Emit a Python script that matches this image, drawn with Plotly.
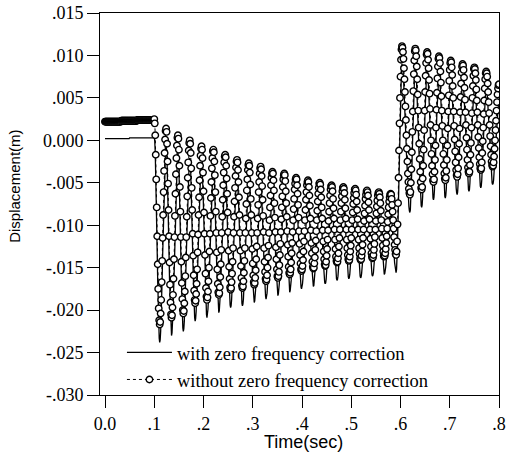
import plotly.graph_objects as go

# Sampling interval of the recorded response (s)
SAMPLE_INTERVAL_S = 0.001

# Displacement without zero frequency correction (mm), one value per sample from t = 0.000 s
disp_without_mm = [
    2.2, 2.2, 2.2, 2.2, 2.2, 2.2, 2.2, 2.2, 2.2, 2.2,
    2.2, 2.2, 2.2, 2.2, 2.2, 2.2, 2.2, 2.2, 2.2, 2.2,
    2.2, 2.2, 2.2, 2.2, 2.2, 2.2, 2.2, 2.2, 2.2, 2.2,
    2.2, 2.2, 2.2,
    2.3, 2.3, 2.3, 2.3, 2.3, 2.3, 2.3, 2.3, 2.3, 2.3,
    2.3, 2.3, 2.3, 2.3, 2.3, 2.3, 2.3, 2.3, 2.3, 2.3,
    2.3, 2.3, 2.3, 2.3, 2.3, 2.3, 2.3, 2.3, 2.3, 2.3,
    2.3, 2.3, 2.3,
    2.4, 2.4, 2.4, 2.4, 2.4, 2.4, 2.4, 2.4, 2.4, 2.4,
    2.4, 2.4, 2.4, 2.4, 2.4, 2.4, 2.4, 2.4, 2.4, 2.4,
    2.4, 2.4, 2.4, 2.4, 2.4, 2.4, 2.4, 2.4, 2.4, 2.4,
    2.4, 2.4, 2.4, 2.4,
    2.5,
    2.0, 0.6, -1.7, -4.6, -7.9, -11.3, -14.6, -17.5, -19.8, -21.2, -21.7,
    -21.4, -20.4, -18.8, -16.7, -14.2, -11.5, -8.8, -6.1, -3.6, -1.5, 0.1, 1.1, 1.4,
    1.0, -0.4, -2.5, -5.1, -8.2, -11.3, -14.4, -17.0, -19.1, -20.5, -20.9,
    -20.6, -19.7, -18.2, -16.3, -14.0, -11.4, -8.9, -6.3, -4.0, -2.1, -0.6, 0.3, 0.6,
    0.2, -1.1, -3.0, -5.5, -8.4, -11.4, -14.3, -16.8, -18.7, -20.0, -20.4,
    -20.1, -19.2, -17.8, -16.0, -13.8, -11.4, -9.0, -6.6, -4.4, -2.6, -1.2, -0.3, 0.0,
    -0.4, -1.5, -3.3, -5.6, -8.2, -11.0, -13.6, -15.9, -17.7, -18.8, -19.2,
    -18.9, -18.1, -16.9, -15.2, -13.2, -11.1, -8.8, -6.7, -4.7, -3.0, -1.8, -1.0, -0.7,
    -1.1, -2.1, -3.8, -6.0, -8.5, -11.0, -13.5, -15.7, -17.4, -18.4, -18.8,
    -18.5, -17.8, -16.6, -15.0, -13.1, -11.0, -8.9, -6.8, -4.9, -3.3, -2.1, -1.3, -1.1,
    -1.4, -2.5, -4.1, -6.1, -8.4, -10.9, -13.2, -15.2, -16.9, -17.9, -18.2,
    -18.0, -17.3, -16.1, -14.6, -12.9, -10.9, -9.0, -7.0, -5.3, -3.8, -2.6, -1.9, -1.7,
    -2.0, -3.0, -4.5, -6.3, -8.5, -10.8, -13.0, -14.9, -16.3, -17.3, -17.6,
    -17.4, -16.7, -15.7, -14.3, -12.7, -10.9, -9.0, -7.2, -5.6, -4.2, -3.2, -2.5, -2.3,
    -2.6, -3.5, -4.9, -6.7, -8.8, -10.9, -13.0, -14.8, -16.2, -17.1, -17.4,
    -17.2, -16.6, -15.6, -14.2, -12.7, -10.9, -9.2, -7.5, -5.9, -4.6, -3.5, -2.9, -2.7,
    -3.0, -3.8, -5.2, -6.9, -8.8, -10.9, -12.8, -14.5, -15.9, -16.7, -17.0,
    -16.8, -16.2, -15.3, -14.0, -12.5, -10.9, -9.2, -7.6, -6.1, -4.9, -3.9, -3.3, -3.1,
    -3.4, -4.2, -5.4, -7.0, -8.9, -10.8, -12.7, -14.3, -15.5, -16.3, -16.6,
    -16.4, -15.9, -15.0, -13.8, -12.4, -10.9, -9.4, -7.9, -6.5, -5.3, -4.4, -3.9, -3.7,
    -3.9, -4.7, -5.9, -7.4, -9.1, -10.8, -12.6, -14.0, -15.2, -16.0, -16.2,
    -16.0, -15.5, -14.7, -13.5, -12.2, -10.8, -9.3, -7.9, -6.6, -5.5, -4.6, -4.1, -3.9,
    -4.1, -4.8, -6.0, -7.4, -9.0, -10.7, -12.3, -13.7, -14.9, -15.6, -15.8,
    -15.6, -15.2, -14.4, -13.3, -12.1, -10.8, -9.4, -8.1, -6.9, -5.8, -5.1, -4.6, -4.4,
    -4.6, -5.3, -6.3, -7.6, -9.1, -10.7, -12.2, -13.5, -14.5, -15.2, -15.4,
    -15.2, -14.8, -14.1, -13.1, -11.9, -10.7, -9.4, -8.2, -7.0, -6.1, -5.3, -4.9, -4.7,
    -4.9, -5.5, -6.5, -7.7, -9.2, -10.6, -12.1, -13.3, -14.3, -14.9, -15.1,
    -15.0, -14.5, -13.8, -12.9, -11.8, -10.7, -9.4, -8.3, -7.2, -6.3, -5.6, -5.1, -5.0,
    -5.2, -5.8, -6.7, -7.9, -9.2, -10.6, -11.9, -13.1, -14.0, -14.6, -14.8,
    -14.7, -14.3, -13.6, -12.8, -11.7, -10.6, -9.5, -8.4, -7.4, -6.5, -5.8, -5.4, -5.3,
    -5.5, -6.0, -6.9, -8.0, -9.2, -10.5, -11.7, -12.8, -13.7, -14.2, -14.4,
    -14.3, -13.9, -13.3, -12.5, -11.5, -10.5, -9.4, -8.4, -7.4, -6.6, -6.0, -5.6, -5.5,
    -5.7, -6.2, -7.0, -8.0, -9.2, -10.5, -11.7, -12.7, -13.5, -14.0, -14.2,
    -14.1, -13.7, -13.1, -12.4, -11.5, -10.5, -9.4, -8.5, -7.5, -6.8, -6.2, -5.8, -5.7,
    -5.9, -6.4, -7.2, -8.2, -9.3, -10.5, -11.7, -12.7, -13.4, -13.9, -14.1,
    -14.0, -13.6, -13.1, -12.3, -11.5, -10.5, -9.5, -8.6, -7.7, -6.9, -6.4, -6.0, -5.9,
    -6.1, -6.5, -7.3, -8.2, -9.3, -10.5, -11.6, -12.5, -13.3, -13.7, -13.9,
    -13.8, -13.5, -12.9, -12.2, -11.4, -10.5, -9.5, -8.6, -7.8, -7.1, -6.5, -6.2, -6.1,
    -6.3, -6.7, -7.4, -8.3, -9.4, -10.4, -11.5, -12.4, -13.1, -13.6, -13.7,
    -13.6, -13.3, -12.8, -12.1, -11.3, -10.4, -9.6, -8.7, -7.9, -7.2, -6.7, -6.4, -6.3,
    -6.4, -6.9, -7.6, -8.4, -9.4, -10.4, -11.4, -12.3, -12.9, -13.4, -13.5,
    -13.1, -11.9, -9.9, -7.4, -4.4, -1.2, 2.0, 5.0, 7.5, 9.5, 10.7, 11.1,
    10.9, 10.4, 9.6, 8.5, 7.2, 5.7, 4.0, 2.4, 0.6, -1.0, -2.5, -3.9, -4.9, -5.7, -6.2, -6.4,
    -6.1, -5.0, -3.4, -1.4, 1.0, 3.4, 5.8, 7.8, 9.4, 10.5, 10.8,
    10.6, 9.9, 8.7, 7.2, 5.4, 3.5, 1.5, -0.4, -2.2, -3.7, -4.9, -5.6, -5.8,
    -5.5, -4.5, -3.0, -1.1, 1.2, 3.5, 5.7, 7.6, 9.1, 10.1, 10.4,
    10.2, 9.5, 8.5, 7.1, 5.5, 3.7, 1.8, 0.0, -1.6, -3.0, -4.0, -4.7, -4.9,
    -4.6, -3.7, -2.3, -0.6, 1.5, 3.6, 5.6, 7.3, 8.7, 9.6, 9.9,
    9.7, 9.1, 8.1, 6.8, 5.2, 3.5, 1.7, 0.0, -1.6, -2.9, -3.9, -4.5, -4.7,
    -4.4, -3.6, -2.3, -0.6, 1.4, 3.4, 5.3, 7.0, 8.3, 9.1, 9.4,
    9.2, 8.6, 7.7, 6.4, 5.0, 3.4, 1.7, 0.1, -1.3, -2.6, -3.5, -4.1, -4.3,
    -4.0, -3.3, -2.0, -0.4, 1.4, 3.3, 5.1, 6.7, 8.0, 8.7, 9.0,
    8.8, 8.3, 7.4, 6.2, 4.8, 3.3, 1.8, 0.3, -1.1, -2.3, -3.2, -3.7, -3.9,
    -3.7, -2.9, -1.7, -0.3, 1.5, 3.2, 5.0, 6.4, 7.6, 8.4, 8.6,
    8.4, 7.9, 7.1, 6.0, 4.7, 3.3, 1.8, 0.4, -0.9, -2.0, -2.8, -3.3, -3.5,
    -3.3, -2.6, -1.5, -0.1, 1.5, 3.1, 4.7, 6.1, 7.2, 7.9, 8.1,
    7.9, 7.5, 6.7, 5.7, 4.5, 3.2, 1.8, 0.5, -0.7, -1.7, -2.5, -2.9, -3.1,
    -3.0, -2.6, -1.9, -1.0, 0.0, 1.2, 2.3, 3.5, 4.5, 5.4, 6.1, 6.5, 6.6,
]

# Displacement with zero frequency correction (mm), same sampling
disp_with_mm = [
    0.2, 0.2, 0.2, 0.2, 0.2, 0.2, 0.2, 0.2, 0.2, 0.2,
    0.2, 0.2, 0.2, 0.2, 0.2, 0.2, 0.2, 0.2, 0.2, 0.2,
    0.2, 0.2, 0.2, 0.2, 0.2, 0.2, 0.2, 0.2, 0.2, 0.2,
    0.2, 0.2, 0.2, 0.2, 0.2, 0.2, 0.2, 0.2, 0.2, 0.2,
    0.2, 0.2, 0.2, 0.2, 0.2, 0.2, 0.2, 0.2, 0.2, 0.2,
    0.3, 0.3, 0.3, 0.3, 0.3, 0.3, 0.3, 0.3, 0.3, 0.3,
    0.3, 0.3, 0.3, 0.3, 0.3, 0.3, 0.3, 0.3, 0.3, 0.3,
    0.3, 0.3, 0.3, 0.3, 0.3, 0.3, 0.3, 0.3, 0.3, 0.3,
    0.3, 0.3, 0.3, 0.3, 0.3, 0.3, 0.3, 0.3, 0.3, 0.3,
    0.3, 0.3, 0.3, 0.3, 0.3, 0.3, 0.3, 0.3, 0.3, 0.3,
    0.4,
    -0.1, -1.5, -3.8, -6.7, -10.0, -13.4, -16.7, -19.6, -21.9, -23.3, -23.8,
    -23.5, -22.5, -20.9, -18.8, -16.3, -13.6, -10.9, -8.2, -5.7, -3.6, -2.0, -1.0, -0.7,
    -1.1, -2.5, -4.6, -7.2, -10.3, -13.4, -16.5, -19.1, -21.2, -22.6, -23.0,
    -22.7, -21.8, -20.3, -18.4, -16.1, -13.5, -11.0, -8.4, -6.1, -4.2, -2.7, -1.8, -1.5,
    -1.9, -3.2, -5.1, -7.6, -10.5, -13.5, -16.4, -18.9, -20.8, -22.1, -22.5,
    -22.2, -21.3, -19.9, -18.1, -15.9, -13.5, -11.1, -8.7, -6.5, -4.7, -3.3, -2.4, -2.1,
    -2.5, -3.6, -5.4, -7.7, -10.3, -13.1, -15.7, -18.0, -19.8, -20.9, -21.3,
    -21.0, -20.2, -19.0, -17.3, -15.3, -13.2, -10.9, -8.8, -6.8, -5.1, -3.9, -3.1, -2.8,
    -3.2, -4.2, -5.9, -8.1, -10.6, -13.1, -15.6, -17.8, -19.5, -20.5, -20.9,
    -20.6, -19.9, -18.7, -17.1, -15.2, -13.1, -11.0, -8.9, -7.0, -5.4, -4.2, -3.4, -3.2,
    -3.5, -4.6, -6.2, -8.2, -10.5, -13.0, -15.3, -17.3, -19.0, -20.0, -20.3,
    -20.1, -19.4, -18.2, -16.7, -15.0, -13.0, -11.1, -9.1, -7.4, -5.9, -4.7, -4.0, -3.8,
    -4.1, -5.1, -6.6, -8.4, -10.6, -12.9, -15.1, -17.0, -18.4, -19.4, -19.7,
    -19.5, -18.8, -17.8, -16.4, -14.8, -13.0, -11.1, -9.3, -7.7, -6.3, -5.3, -4.6, -4.4,
    -4.7, -5.6, -7.0, -8.8, -10.9, -13.0, -15.1, -16.9, -18.3, -19.2, -19.5,
    -19.3, -18.7, -17.7, -16.3, -14.8, -13.0, -11.3, -9.6, -8.0, -6.7, -5.6, -5.0, -4.8,
    -5.1, -5.9, -7.3, -9.0, -10.9, -13.0, -14.9, -16.6, -18.0, -18.8, -19.1,
    -18.9, -18.3, -17.4, -16.1, -14.6, -13.0, -11.3, -9.7, -8.2, -7.0, -6.0, -5.4, -5.2,
    -5.5, -6.3, -7.5, -9.1, -11.0, -12.9, -14.8, -16.4, -17.6, -18.4, -18.7,
    -18.5, -18.0, -17.1, -15.9, -14.5, -13.0, -11.5, -10.0, -8.6, -7.4, -6.5, -6.0, -5.8,
    -6.0, -6.8, -8.0, -9.5, -11.2, -12.9, -14.7, -16.1, -17.3, -18.1, -18.3,
    -18.1, -17.6, -16.8, -15.6, -14.3, -12.9, -11.4, -10.0, -8.7, -7.6, -6.7, -6.2, -6.0,
    -6.2, -6.9, -8.1, -9.5, -11.1, -12.8, -14.4, -15.8, -17.0, -17.7, -17.9,
    -17.7, -17.3, -16.5, -15.4, -14.2, -12.9, -11.5, -10.2, -9.0, -7.9, -7.2, -6.7, -6.5,
    -6.7, -7.4, -8.4, -9.7, -11.2, -12.8, -14.3, -15.6, -16.6, -17.3, -17.5,
    -17.3, -16.9, -16.2, -15.2, -14.0, -12.8, -11.5, -10.3, -9.1, -8.2, -7.4, -7.0, -6.8,
    -7.0, -7.6, -8.6, -9.8, -11.3, -12.7, -14.2, -15.4, -16.4, -17.0, -17.2,
    -17.1, -16.6, -15.9, -15.0, -13.9, -12.8, -11.5, -10.4, -9.3, -8.4, -7.7, -7.2, -7.1,
    -7.3, -7.9, -8.8, -10.0, -11.3, -12.7, -14.0, -15.2, -16.1, -16.7, -16.9,
    -16.8, -16.4, -15.7, -14.9, -13.8, -12.7, -11.6, -10.5, -9.5, -8.6, -7.9, -7.5, -7.4,
    -7.6, -8.1, -9.0, -10.1, -11.3, -12.6, -13.8, -14.9, -15.8, -16.3, -16.5,
    -16.4, -16.0, -15.4, -14.6, -13.6, -12.6, -11.5, -10.5, -9.5, -8.7, -8.1, -7.7, -7.6,
    -7.8, -8.3, -9.1, -10.1, -11.3, -12.6, -13.8, -14.8, -15.6, -16.1, -16.3,
    -16.2, -15.8, -15.2, -14.5, -13.6, -12.6, -11.5, -10.6, -9.6, -8.9, -8.3, -7.9, -7.8,
    -8.0, -8.5, -9.3, -10.3, -11.4, -12.6, -13.8, -14.8, -15.5, -16.0, -16.2,
    -16.1, -15.7, -15.2, -14.4, -13.6, -12.6, -11.6, -10.7, -9.8, -9.0, -8.5, -8.1, -8.0,
    -8.2, -8.6, -9.4, -10.3, -11.4, -12.6, -13.7, -14.6, -15.4, -15.8, -16.0,
    -15.9, -15.6, -15.0, -14.3, -13.5, -12.6, -11.6, -10.7, -9.9, -9.2, -8.6, -8.3, -8.2,
    -8.4, -8.8, -9.5, -10.4, -11.5, -12.5, -13.6, -14.5, -15.2, -15.7, -15.8,
    -15.7, -15.4, -14.9, -14.2, -13.4, -12.5, -11.7, -10.8, -10.0, -9.3, -8.8, -8.5, -8.4,
    -8.5, -9.0, -9.7, -10.5, -11.5, -12.5, -13.5, -14.4, -15.0, -15.5, -15.6,
    -15.2, -14.0, -12.0, -9.5, -6.5, -3.3, -0.1, 2.9, 5.4, 7.4, 8.6, 9.0,
    8.8, 8.3, 7.5, 6.4, 5.1, 3.6, 1.9, 0.3, -1.5, -3.1, -4.6, -6.0, -7.0, -7.8, -8.3, -8.5,
    -8.2, -7.1, -5.5, -3.5, -1.1, 1.3, 3.7, 5.7, 7.3, 8.4, 8.7,
    8.5, 7.8, 6.6, 5.1, 3.3, 1.4, -0.6, -2.5, -4.3, -5.8, -7.0, -7.7, -7.9,
    -7.6, -6.6, -5.1, -3.2, -0.9, 1.4, 3.6, 5.5, 7.0, 8.0, 8.3,
    8.1, 7.4, 6.4, 5.0, 3.4, 1.6, -0.3, -2.1, -3.7, -5.1, -6.1, -6.8, -7.0,
    -6.7, -5.8, -4.4, -2.7, -0.6, 1.5, 3.5, 5.2, 6.6, 7.5, 7.8,
    7.6, 7.0, 6.0, 4.7, 3.1, 1.4, -0.4, -2.1, -3.7, -5.0, -6.0, -6.6, -6.8,
    -6.5, -5.7, -4.4, -2.7, -0.7, 1.3, 3.2, 4.9, 6.2, 7.0, 7.3,
    7.1, 6.5, 5.6, 4.3, 2.9, 1.3, -0.4, -2.0, -3.4, -4.7, -5.6, -6.2, -6.4,
    -6.1, -5.4, -4.1, -2.5, -0.7, 1.2, 3.0, 4.6, 5.9, 6.6, 6.9,
    6.7, 6.2, 5.3, 4.1, 2.7, 1.2, -0.3, -1.8, -3.2, -4.4, -5.3, -5.8, -6.0,
    -5.8, -5.0, -3.8, -2.4, -0.6, 1.1, 2.9, 4.3, 5.5, 6.3, 6.5,
    6.3, 5.8, 5.0, 3.9, 2.6, 1.2, -0.3, -1.7, -3.0, -4.1, -4.9, -5.4, -5.6,
    -5.4, -4.7, -3.6, -2.2, -0.6, 1.0, 2.6, 4.0, 5.1, 5.8, 6.0,
    5.8, 5.4, 4.6, 3.6, 2.4, 1.1, -0.3, -1.6, -2.8, -3.8, -4.6, -5.0, -5.2,
    -5.1, -4.7, -4.0, -3.1, -2.1, -0.9, 0.2, 1.4, 2.4, 3.3, 4.0, 4.4, 4.5,
]

series_names = ["with zero frequency correction", "without zero frequency correction"]

x_tick_values = [0.0, 0.1, 0.2, 0.3, 0.4, 0.5, 0.6, 0.7, 0.8]
x_tick_labels = ["0.0", ".1", ".2", ".3", ".4", ".5", ".6", ".7", ".8"]
y_tick_values = [0.015, 0.010, 0.005, 0.0, -0.005, -0.010, -0.015, -0.020, -0.025, -0.030]
y_tick_labels = [".015", ".010", ".005", "0.000", "-.005", "-.010", "-.015", "-.020", "-.025", "-.030"]

x_title = "Time(sec)"
y_title = "Displacement(m)"

# sample times and unit conversion (mm -> m)
t_with = [round(i * SAMPLE_INTERVAL_S, 3) for i in range(len(disp_with_mm))]
t_without = [round(i * SAMPLE_INTERVAL_S, 3) for i in range(len(disp_without_mm))]
y_with = [v / 1000.0 for v in disp_with_mm]
y_without = [v / 1000.0 for v in disp_without_mm]

SERIF = "Liberation Serif, Times New Roman, serif"
SANS = "Liberation Sans, Arial, sans-serif"

fig = go.Figure()
fig.add_trace(go.Scatter(
    x=t_with, y=y_with, name=series_names[0], mode="lines",
    line=dict(color="black", width=1.3),
))
fig.add_trace(go.Scatter(
    x=t_without, y=y_without, name=series_names[1], mode="lines+markers",
    line=dict(color="black", width=1, dash="dot"),
    marker=dict(symbol="circle", size=6.5, color="white",
                line=dict(color="black", width=1.4)),
))

axis_common = dict(
    showline=True, linecolor="black", linewidth=1, mirror=True,
    ticks="outside", ticklen=12, tickwidth=1, tickcolor="black",
    showgrid=False, zeroline=False, automargin=False,
    tickfont=dict(family=SERIF, size=18, color="black"),
)

fig.update_layout(
    width=506, height=472,
    margin=dict(l=100, r=7, t=13, b=77),
    paper_bgcolor="white", plot_bgcolor="white",
    showlegend=True,
    legend=dict(
        x=0.055, y=0.16, xanchor="left", yanchor="top",
        bgcolor="rgba(0,0,0,0)", borderwidth=0,
        font=dict(family=SERIF, size=18.5, color="black"),
        itemwidth=45, tracegroupgap=0,
    ),
    xaxis=dict(range=[-0.0102, 0.8], tickvals=x_tick_values, ticktext=x_tick_labels, **axis_common),
    yaxis=dict(range=[-0.030, 0.015], tickvals=y_tick_values, ticktext=y_tick_labels, **axis_common),
    annotations=[
        dict(text=x_title, xref="paper", yref="paper", x=0.509, y=-0.123,
             xanchor="center", yanchor="middle", showarrow=False,
             font=dict(family=SANS, size=18, color="black")),
        dict(text=y_title, xref="paper", yref="paper", x=-0.213, y=0.545,
             xanchor="center", yanchor="middle", showarrow=False, textangle=-90,
             font=dict(family=SANS, size=15, color="black")),
    ],
)

# remove the browser's default page margin so the 506x472 figure fills the window exactly
fig.write_html(
    "out.html",
    config={"displayModeBar": False},
    post_script="document.body.style.margin='0';",
)
